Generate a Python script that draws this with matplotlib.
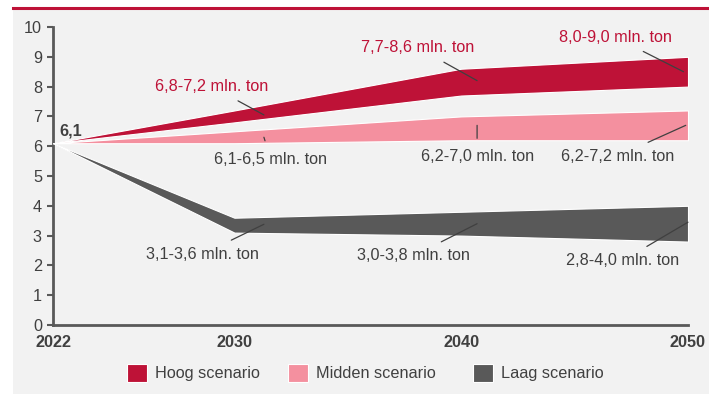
import matplotlib
matplotlib.use("Agg")
import matplotlib.pyplot as plt
from matplotlib.patches import Rectangle, Patch
from matplotlib.lines import Line2D

plt.rcParams['font.family'] = ['Liberation Sans', 'DejaVu Sans']

years = [2022, 2030, 2040, 2050]
hoog_low = [6.1, 6.8, 7.7, 8.0]
hoog_high = [6.1, 7.2, 8.6, 9.0]
midden_low = [6.1, 6.1, 6.2, 6.2]
midden_high = [6.1, 6.5, 7.0, 7.2]
laag_low = [6.1, 3.1, 3.0, 2.8]
laag_high = [6.1, 3.6, 3.8, 4.0]
yticks = list(range(0, 11))
series_names = ["Hoog scenario", "Midden scenario", "Laag scenario"]

c_hoog = "#be1237"
c_mid = "#f4909f"
c_laag = "#595959"
c_text = "#404040"
bg = "#f2f2f2"
FS = 11.7

fig = plt.figure(figsize=(7.09, 3.94), dpi=100, facecolor="white")
fig.patches.append(Rectangle((13/709, 0), 1 - 13/709, (394-10)/394, transform=fig.transFigure,
                             facecolor=bg, edgecolor="none", zorder=-10))
fig.lines.append(Line2D([13/709, 1], [1-7.8/394, 1-7.8/394], transform=fig.transFigure,
                        color=c_hoog, lw=2.2, zorder=-9))

ax = fig.add_axes([53/709, 1-325/394, (688-53)/709, (325-27)/394])
ax.set_facecolor("none")
ax.fill_between(years, hoog_low, hoog_high, facecolor=c_hoog, edgecolor="white", lw=0.8, zorder=3)
ax.fill_between(years, midden_low, midden_high, facecolor=c_mid, edgecolor="white", lw=0.8, zorder=3)
ax.fill_between(years, laag_low, laag_high, facecolor=c_laag, edgecolor="white", lw=0.8, zorder=3)

ax.set_xlim(2022, 2050)
ax.set_ylim(0, 10)
ax.set_yticks(yticks)
ax.set_xticks(years)
ax.tick_params(axis='y', color="#595959", labelsize=FS, length=4, width=1.5, pad=4, labelcolor=c_text)
ax.tick_params(axis='x', length=0, pad=7, labelsize=FS, labelcolor=c_text)
for lab in ax.get_xticklabels():
    lab.set_fontweight('bold')
for s in ['top', 'right']:
    ax.spines[s].set_visible(False)
for s in ['left', 'bottom']:
    ax.spines[s].set_color("#595959")
    ax.spines[s].set_linewidth(2)

ax.text(2022.3, 6.25, "6,1", fontsize=FS, fontweight='bold', color=c_text, ha='left', va='bottom')

def ann(text, xy, xytext, color):
    ax.annotate(text, xy=xy, xytext=xytext, fontsize=FS, color=color, ha='center', va='center',
                arrowprops=dict(arrowstyle='-', color=c_text, lw=0.9, shrinkA=6, shrinkB=0),
                zorder=5, annotation_clip=False)

# high
ann("6,8-7,2 mln. ton", (2031.3, 7.05), (2029.0, 8.0), c_hoog)
ann("7,7-8,6 mln. ton", (2040.7, 8.2), (2038.1, 9.3), c_hoog)
ann("8,0-9,0 mln. ton", (2049.8, 8.5), (2046.8, 9.65), c_hoog)
# mid
ann("6,1-6,5 mln. ton", (2031.3, 6.3), (2031.6, 5.57), c_text)
ann("6,2-7,0 mln. ton", (2040.7, 6.7), (2040.7, 5.64), c_text)
ann("6,2-7,2 mln. ton", (2049.9, 6.7), (2046.9, 5.67), c_text)
# low
ann("3,1-3,6 mln. ton", (2031.3, 3.38), (2028.6, 2.38), c_text)
ann("3,0-3,8 mln. ton", (2040.7, 3.4), (2037.9, 2.32), c_text)
ann("2,8-4,0 mln. ton", (2050.0, 3.45), (2047.1, 2.15), c_text)

# legend: three single-entry legends at the reference positions
leg_x = [127, 288, 473]
for name, col, lx in zip(series_names, (c_hoog, c_mid, c_laag), leg_x):
    h = Patch(facecolor=col, edgecolor='white', lw=0.8)
    lg = fig.legend([h], [name], loc='center left', bbox_to_anchor=(lx/709, 1-373/394),
                    frameon=False, fontsize=FS, handlelength=1.25, handleheight=1.25,
                    handletextpad=0.5, borderpad=0, borderaxespad=0, labelcolor=c_text)

fig.savefig("out.png", dpi=100, facecolor="white")
